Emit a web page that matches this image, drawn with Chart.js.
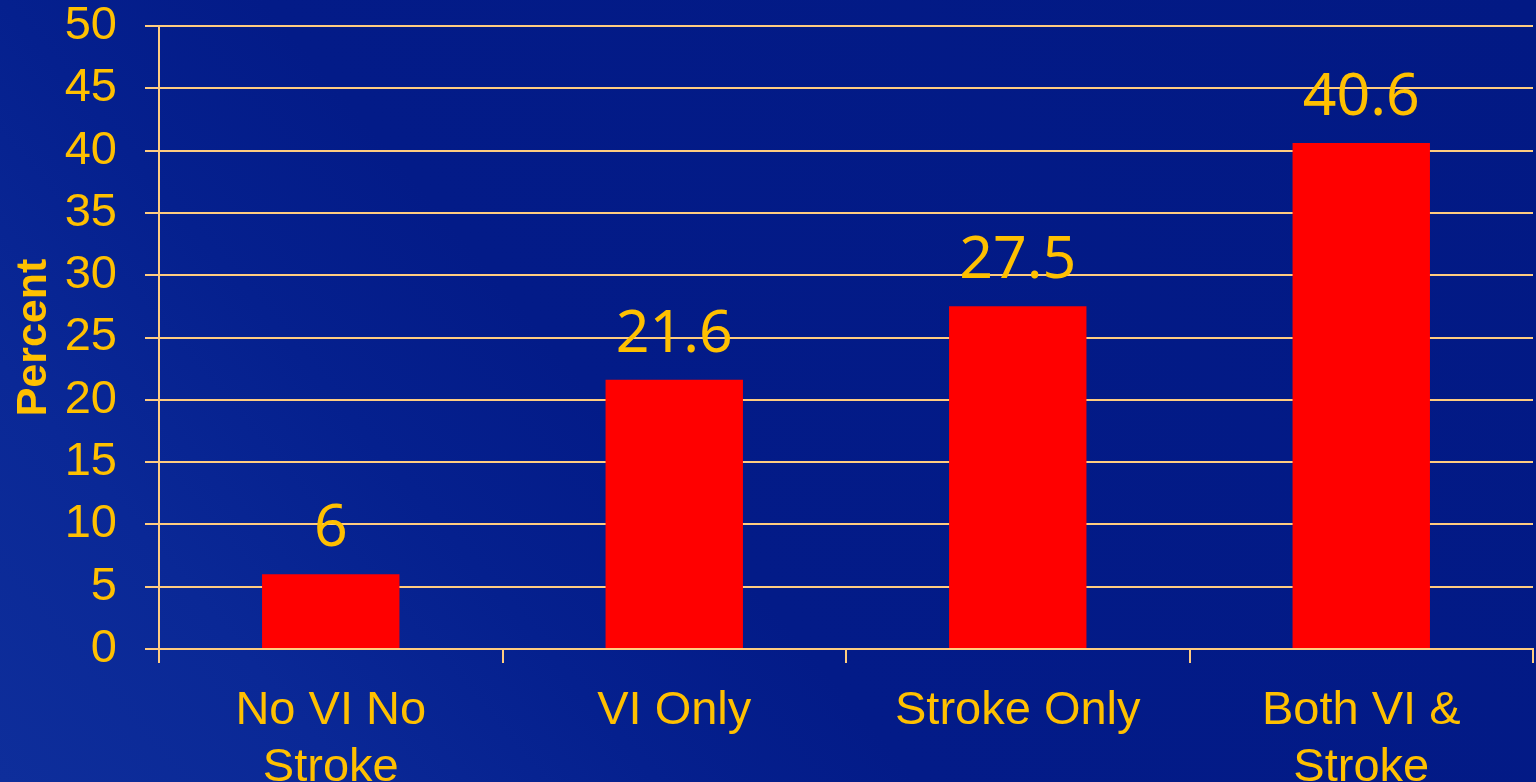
<!DOCTYPE html>
<html>
<head>
<meta charset="utf-8">
<script src="https://cdn.jsdelivr.net/npm/chart.js@4/dist/chart.umd.min.js"></script>
<style>
  html, body { margin: 0; padding: 0; }
  body {
    width: 1536px; height: 782px; overflow: hidden;
    background:
      linear-gradient(50deg, #0e2e9b 0%, #0a2896 16%, #05208e 30%, #031b88 42%, #021984 100%);
  }
  #wrap { position: relative; width: 1536px; height: 782px; }
</style>
</head>
<body>
<div id="wrap"><canvas id="chart"></canvas></div>
<script>
const categories = [['No VI No', 'Stroke'], 'VI Only', 'Stroke Only', ['Both VI &', 'Stroke']];
const percentValues = [6, 21.6, 27.5, 40.6];
const valueLabels = ['6', '21.6', '27.5', '40.6'];

const gold = '#ffc000';
const gridColor = '#ffcc80';

// value labels above the bars
const barLabels = {
  id: 'barLabels',
  afterDatasetsDraw(chart) {
    const ctx = chart.ctx;
    const meta = chart.getDatasetMeta(0);
    ctx.save();
    ctx.fillStyle = gold;
    ctx.font = '59px "Noto Sans"';
    ctx.textAlign = 'center';
    ctx.textBaseline = 'alphabetic';
    meta.data.forEach((bar, i) => {
      ctx.fillText(valueLabels[i], bar.x, bar.y - 28);
    });
    ctx.restore();
  }
};

new Chart(document.getElementById('chart'), {
  type: 'bar',
  data: {
    labels: categories,
    datasets: [{
      data: percentValues,
      backgroundColor: '#ff0000',
      categoryPercentage: 0.4,
      barPercentage: 1.0
    }]
  },
  options: {
    responsive: true,
    maintainAspectRatio: false,
    animation: false,
    layout: { padding: { top: 26, right: 3, left: 0, bottom: 0 } },
    plugins: {
      legend: { display: false },
      tooltip: { enabled: false }
    },
    scales: {
      x: {
        grid: {
          display: true,
          drawOnChartArea: false,
          drawTicks: true,
          tickLength: 14,
          color: gridColor,
          lineWidth: 2
        },
        border: { display: true, color: gridColor, width: 2 },
        ticks: {
          color: gold,
          font: { family: '"Liberation Sans", Arial, sans-serif', size: 47 },
          padding: 20,
          maxRotation: 0,
          autoSkip: false
        },
        afterFit(scale) { scale.height = 133; }
      },
      y: {
        min: 0,
        max: 50,
        ticks: {
          stepSize: 5,
          autoSkip: false,
          color: gold,
          font: { family: '"Liberation Sans", Arial, sans-serif', size: 47 },
          padding: 28
        },
        grid: {
          color: gridColor,
          lineWidth: 2,
          tickLength: 14
        },
        border: { display: true, color: gridColor, width: 2 },
        title: {
          display: true,
          text: 'Percent',
          color: gold,
          font: { family: '"Liberation Sans", Arial, sans-serif', size: 43, weight: 'bold' },
          padding: { top: 8, bottom: 0 }
        },
        afterFit(scale) {
          scale.width = 159;
          scale.paddingTop = 0;
          scale.paddingBottom = 0;
        }
      }
    }
  },
  plugins: [barLabels]
});
</script>
</body>
</html>
